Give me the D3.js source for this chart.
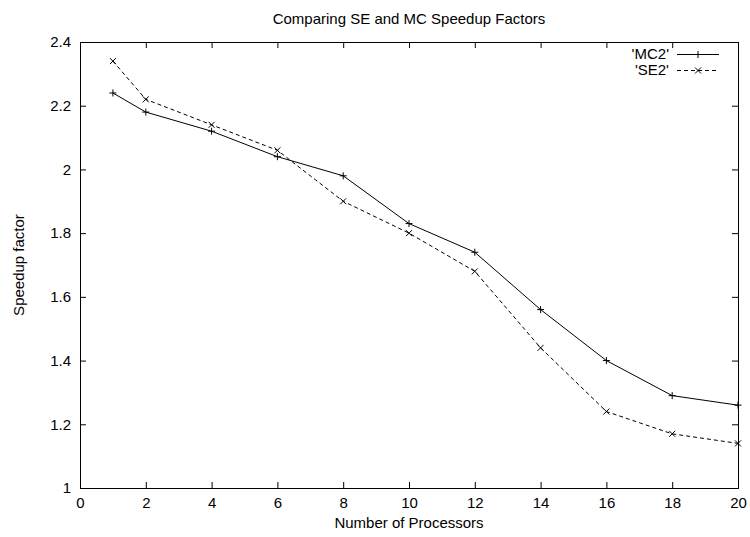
<!DOCTYPE html>
<html>
<head>
<meta charset="utf-8">
<script src="https://cdn.jsdelivr.net/npm/d3@7"></script>
<style>
  body { margin: 0; background: #fff; }
  svg { display: block; font-family: "Liberation Sans", Arial, sans-serif; }
</style>
</head>
<body>
<svg id="chart"></svg>
<script>
const width = 750, height = 537

// data
const processors = [1, 2, 4, 6, 8, 10, 12, 14, 16, 18, 20]
const mc2 = [2.24, 2.18, 2.12, 2.04, 1.98, 1.83, 1.74, 1.56, 1.40, 1.29, 1.26]
const se2 = [2.34, 2.22, 2.14, 2.06, 1.90, 1.80, 1.68, 1.44, 1.24, 1.17, 1.14]
const seriesNames = ["'MC2'", "'SE2'"]

const xTicks = [0, 2, 4, 6, 8, 10, 12, 14, 16, 18, 20]
const yTicks = [1, 1.2, 1.4, 1.6, 1.8, 2, 2.2, 2.4]
const yTickLabels = ["1", "1.2", "1.4", "1.6", "1.8", "2", "2.2", "2.4"]

const plot = { left: 80, right: 738, top: 42, bottom: 488 }
const fontSize = 15
const tickLen = 6

const svg = d3.select("#chart").attr("width", width).attr("height", height)
    .attr("viewBox", [0, 0, width, height])

const x = d3.scaleLinear().domain([0, 20]).range([plot.left, plot.right])
const y = d3.scaleLinear().domain([1, 2.4]).range([plot.bottom, plot.top])

// axes, ticks point inward and are mirrored on top/right
const xAxis = svg.append("g").attr("transform", `translate(0,${plot.bottom})`)
    .call(d3.axisBottom(x).tickValues(xTicks).tickSize(-tickLen).tickPadding(9).tickFormat(d => String(d)))
const yAxis = svg.append("g").attr("transform", `translate(${plot.left},0)`)
    .call(d3.axisLeft(y).tickValues(yTicks).tickSize(-tickLen).tickPadding(9).tickFormat((d, i) => yTickLabels[i]))
svg.append("g").attr("transform", `translate(0,${plot.top})`)
    .call(d3.axisTop(x).tickValues(xTicks).tickSize(-tickLen).tickFormat(""))
svg.append("g").attr("transform", `translate(${plot.right},0)`)
    .call(d3.axisRight(y).tickValues(yTicks).tickSize(-tickLen).tickFormat(""))

svg.selectAll(".domain").attr("stroke", "#000").attr("stroke-width", 1)
svg.selectAll(".tick line").attr("stroke", "#000")
svg.selectAll(".tick text").attr("font-size", fontSize).attr("fill", "#000")
    .attr("font-family", "Liberation Sans, Arial, sans-serif")
svg.selectAll("g").attr("font-size", fontSize).attr("font-family", null)

// title and axis labels
svg.append("text").attr("x", (plot.left + plot.right) / 2).attr("y", 24)
    .attr("text-anchor", "middle").attr("font-size", fontSize)
    .text("Comparing SE and MC Speedup Factors")
svg.append("text").attr("x", (plot.left + plot.right) / 2).attr("y", 528)
    .attr("text-anchor", "middle").attr("font-size", fontSize)
    .text("Number of Processors")
svg.append("text")
    .attr("transform", `translate(24,${(plot.top + plot.bottom) / 2}) rotate(-90)`)
    .attr("text-anchor", "middle").attr("font-size", fontSize)
    .text("Speedup factor")

const plusPath = "M-3.5,0H3.5M0,-3.5V3.5"
const crossPath = "M-3,-3L3,3M-3,3L3,-3"

const series = [
    { name: seriesNames[0], values: mc2, dash: null, marker: plusPath },
    { name: seriesNames[1], values: se2, dash: "4,3", marker: crossPath }
]

const line = d3.line()
    .x((d, i) => x(processors[i]))
    .y(d => y(d))

series.forEach((s, k) => {
    svg.append("path")
        .datum(s.values)
        .attr("d", line)
        .attr("fill", "none")
        .attr("stroke", "#000")
        .attr("stroke-width", 1)
        .attr("stroke-dasharray", s.dash)

    svg.append("g").selectAll("path")
        .data(s.values)
        .join("path")
        .attr("transform", (d, i) => `translate(${x(processors[i])},${y(d)})`)
        .attr("d", s.marker)
        .attr("stroke", "#000")
        .attr("fill", "none")

    // legend row
    const ly = 54.5 + k * 16
    svg.append("text").attr("x", 669).attr("y", ly + 4)
        .attr("text-anchor", "end").attr("font-size", fontSize)
        .text(s.name)
    svg.append("line").attr("x1", 677).attr("x2", 719).attr("y1", ly).attr("y2", ly)
        .attr("stroke", "#000").attr("stroke-dasharray", s.dash)
    svg.append("path").attr("transform", `translate(698,${ly})`)
        .attr("d", s.marker).attr("stroke", "#000").attr("fill", "none")
})
</script>
</body>
</html>
